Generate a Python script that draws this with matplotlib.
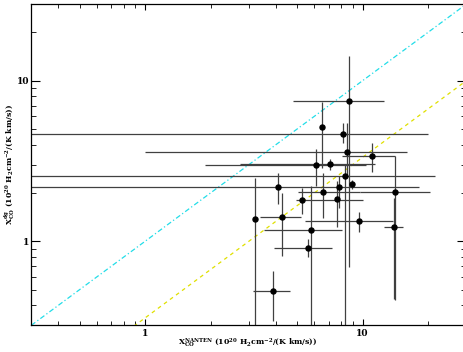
#!/usr/bin/python3

import numpy as np
import matplotlib
matplotlib.use('Agg')
import matplotlib.pyplot as plt
from matplotlib.ticker import LogLocator, NullFormatter, FixedLocator, FixedFormatter

# x = X_CO from NANTEN, y = X_CO from dust; lo/hi are the error bar ends
x_val = [8.68, 6.48, 8.09, 8.47, 11.07, 6.08, 7.07, 8.27, 8.96, 7.78, 4.08,
         6.57, 14.07, 5.28, 7.60, 3.19, 4.27, 5.79, 5.59, 9.65, 13.92, 3.88]
y_val = [7.51, 5.13, 4.66, 3.61, 3.40, 3.00, 3.03, 2.54, 2.26, 2.19, 2.19,
         2.03, 2.04, 1.81, 1.83, 1.37, 1.42, 1.17, 0.91, 1.34, 1.22, 0.489]
x_lo = [4.78, 6.48, 0.1, 1.0, 8.03, 1.89, 2.73, 0.1, 8.96, 0.1, 4.08,
        5.06, 9.72, 4.97, 7.60, 3.19, 3.38, 3.53, 3.91, 5.43, 12.52, 3.12]
x_hi = [12.6, 6.48, 20.1, 16.0, 14.07, 10.36, 11.47, 21.5, 8.96, 18.2, 4.08,
        9.72, 20.5, 10.06, 7.60, 3.19, 5.19, 8.06, 7.25, 13.82, 15.37, 4.65]
y_lo = [0.69, 2.87, 4.11, 2.6, 2.69, 2.21, 2.78, 0.1, 2.12, 1.61, 1.70,
        1.39, 0.43, 1.47, 1.23, 0.1, 0.81, 0.1, 0.80, 1.14, 0.435, 0.32]
y_hi = [14.3, 7.34, 5.45, 5.45, 4.08, 3.74, 3.24, 3.0, 2.41, 2.55, 2.67,
        2.67, 3.40, 2.14, 2.38, 2.47, 2.01, 2.22, 1.03, 1.53, 1.87, 0.656]

XMIN, XMAX = 0.3, 30.0
YMIN, YMAX = 0.3, 30.0

plt.rcParams['font.family'] = ['DejaVu Serif']
plt.rcParams['font.weight'] = 'bold'
plt.rcParams['mathtext.fontset'] = 'dejavuserif'
plt.rcParams['mathtext.default'] = 'bf'

x = np.array(x_val)
y = np.array(y_val)
xerr = [x - np.array(x_lo), np.array(x_hi) - x]
yerr = [y - np.array(y_lo), np.array(y_hi) - y]

fig = plt.figure(figsize=(4.63, 3.52), dpi=100)
ax = fig.add_axes([31.3 / 463, 1 - 325.3 / 352, 435.0 / 463, 321.2 / 352])

ax.set_xscale('log')
ax.set_yscale('log')

line = np.array([XMIN, XMAX])
ax.plot(line, line, color='#22dde8', lw=0.9, ls=(0, (4, 2, 1, 2)))
ax.plot(line, line / 3.0, color='#e0e000', lw=0.9, ls=(0, (3, 3)))

ax.errorbar(x, y, xerr=xerr, yerr=yerr, fmt='o', color='black', ecolor='0.25',
            elinewidth=0.9, markersize=3.6, capsize=0)

ax.set_xlim(XMIN, XMAX)
ax.set_ylim(YMIN, YMAX)

for a in (ax.xaxis, ax.yaxis):
    a.set_major_locator(FixedLocator([1, 10]))
    a.set_major_formatter(FixedFormatter(['1', '10']))
    a.set_minor_locator(LogLocator(base=10, subs=np.arange(2, 10), numticks=20))
    a.set_minor_formatter(NullFormatter())

ax.tick_params(axis='x', which='major', direction='in', top=True, length=4.5, width=0.8, labelsize=6.5, pad=3)
ax.tick_params(axis='x', which='minor', direction='in', top=True, length=2.6, width=0.6)
ax.tick_params(axis='y', which='major', direction='in', right=True, length=6.2, width=0.8, labelsize=6.5, pad=1.5)
ax.tick_params(axis='y', which='minor', direction='in', right=True, length=3.4, width=0.6)
for s in ax.spines.values():
    s.set_linewidth(0.9)

# axis titles placed by hand, the figure is tight
fig.text(248 / 463, 1 - 343 / 352, r'X$_{\rm CO}^{\rm NANTEN}$ (10$^{20}$ H$_2$cm$^{-2}$/(K km/s))',
         fontsize=5.6, ha='center', va='center')
fig.text(10 / 463, 1 - 164 / 352, r'X$_{\rm CO}^{\rm dg}$ (10$^{20}$ H$_2$cm$^{-2}$/(K km/s))',
         fontsize=5.6, ha='center', va='center', rotation=90)

plt.savefig('out.png', dpi=100)
